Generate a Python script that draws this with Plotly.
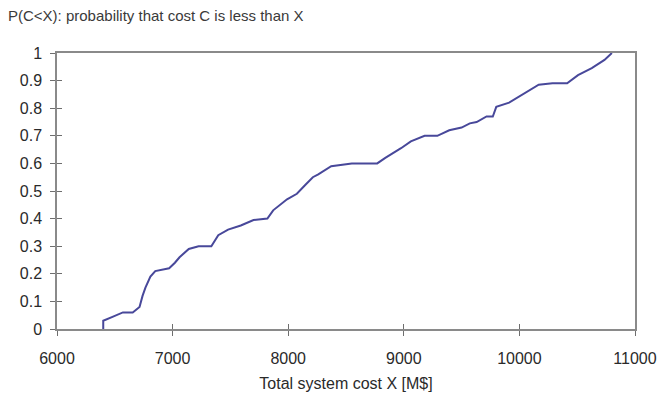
import plotly.graph_objects as go

cost_x = [6400, 6400, 6485, 6570, 6655, 6714, 6740, 6765, 6808, 6850, 6970, 7020, 7060,
          7140, 7225, 7335, 7395, 7480, 7590, 7700, 7820, 7870, 7990, 8075, 8143, 8213,
          8260, 8372, 8550, 8770, 8840, 8925, 8976, 9061, 9095, 9180, 9290, 9393, 9500,
          9571, 9630, 9716, 9770, 9800, 9911, 10030, 10167, 10286, 10413, 10507, 10626,
          10736, 10800]
prob_p = [0.0, 0.03, 0.045, 0.06, 0.06, 0.08, 0.12, 0.15, 0.19, 0.21, 0.22, 0.24, 0.26,
          0.29, 0.30, 0.30, 0.34, 0.36, 0.375, 0.395, 0.40, 0.43, 0.47, 0.49, 0.52, 0.55,
          0.56, 0.59, 0.60, 0.60, 0.62, 0.64, 0.655, 0.68, 0.685, 0.70, 0.70, 0.72, 0.73,
          0.745, 0.75, 0.77, 0.77, 0.805, 0.82, 0.85, 0.885, 0.89, 0.89, 0.92, 0.945,
          0.975, 1.0]

x_ticks = [6000, 7000, 8000, 9000, 10000, 11000]
x_tick_labels = ["6000", "7000", "8000", "9000", "10000", "11000"]
y_ticks = [0, 0.1, 0.2, 0.3, 0.4, 0.5, 0.6, 0.7, 0.8, 0.9, 1]
y_tick_labels = ["0", "0.1", "0.2", "0.3", "0.4", "0.5", "0.6", "0.7", "0.8", "0.9", "1"]

FONT = "Liberation Sans, Arial, sans-serif"
AX = "#8a8a8a"
TICKC = "#6e6e6e"

# the page body adds an 8px margin, so the figure is 8px smaller and shifted accordingly
W, H = 661, 396

fig = go.Figure()
fig.add_trace(go.Scatter(x=cost_x, y=prob_p, mode="lines",
                         line=dict(color="#48489a", width=2), showlegend=False,
                         hoverinfo="x+y"))
# same data on the overlay axes (transparent) so that the inner tick marks get drawn
fig.add_trace(go.Scatter(x=cost_x, y=prob_p, mode="lines", xaxis="x2", yaxis="y2",
                         line=dict(color="rgba(0,0,0,0)", width=1), showlegend=False,
                         hoverinfo="skip"))

common = dict(showgrid=False, zeroline=False, linecolor=AX, linewidth=1.5,
              tickcolor=TICKC, tickwidth=1.3, ticklen=5,
              tickfont=dict(size=16, color="#2a2a2a"))

fig.update_layout(
    width=W, height=H,
    margin=dict(l=45, r=28, t=45, b=75),
    paper_bgcolor="white", plot_bgcolor="white",
    font=dict(family=FONT, size=15, color="#2a2a2a"),
    title=dict(text="P(C<X): probability that cost C is less than X",
               x=0, xanchor="left", xref="container",
               y=1-8/H, yanchor="middle", yref="container",
               pad=dict(l=0, r=0, t=0, b=0),
               font=dict(size=15, color="#3a3a3a")),
    xaxis=dict(range=[6000, 11000], tickvals=x_ticks, ticktext=x_tick_labels,
               ticks="outside", mirror=True, ticklabelstandoff=9,
               title=dict(text="Total system cost X [M$]", standoff=12,
                          font=dict(size=16, color="#2a2a2a")),
               **common),
    yaxis=dict(range=[0, 1], tickvals=y_ticks, ticktext=y_tick_labels, ticks="outside",
               mirror=True, ticklabelstandoff=5, **common),
    xaxis2=dict(overlaying="x", anchor="y", side="bottom", range=[6000, 11000],
                tickvals=x_ticks, ticks="inside", showticklabels=False, showline=False,
                showgrid=False, zeroline=False, tickcolor=TICKC, tickwidth=1.3, ticklen=5),
    yaxis2=dict(overlaying="y", anchor="x", side="left", range=[0, 1],
                tickvals=y_ticks, ticks="inside", showticklabels=False, showline=False,
                showgrid=False, zeroline=False, tickcolor=TICKC, tickwidth=1.3, ticklen=5),
)

fig.write_html("out.html")
